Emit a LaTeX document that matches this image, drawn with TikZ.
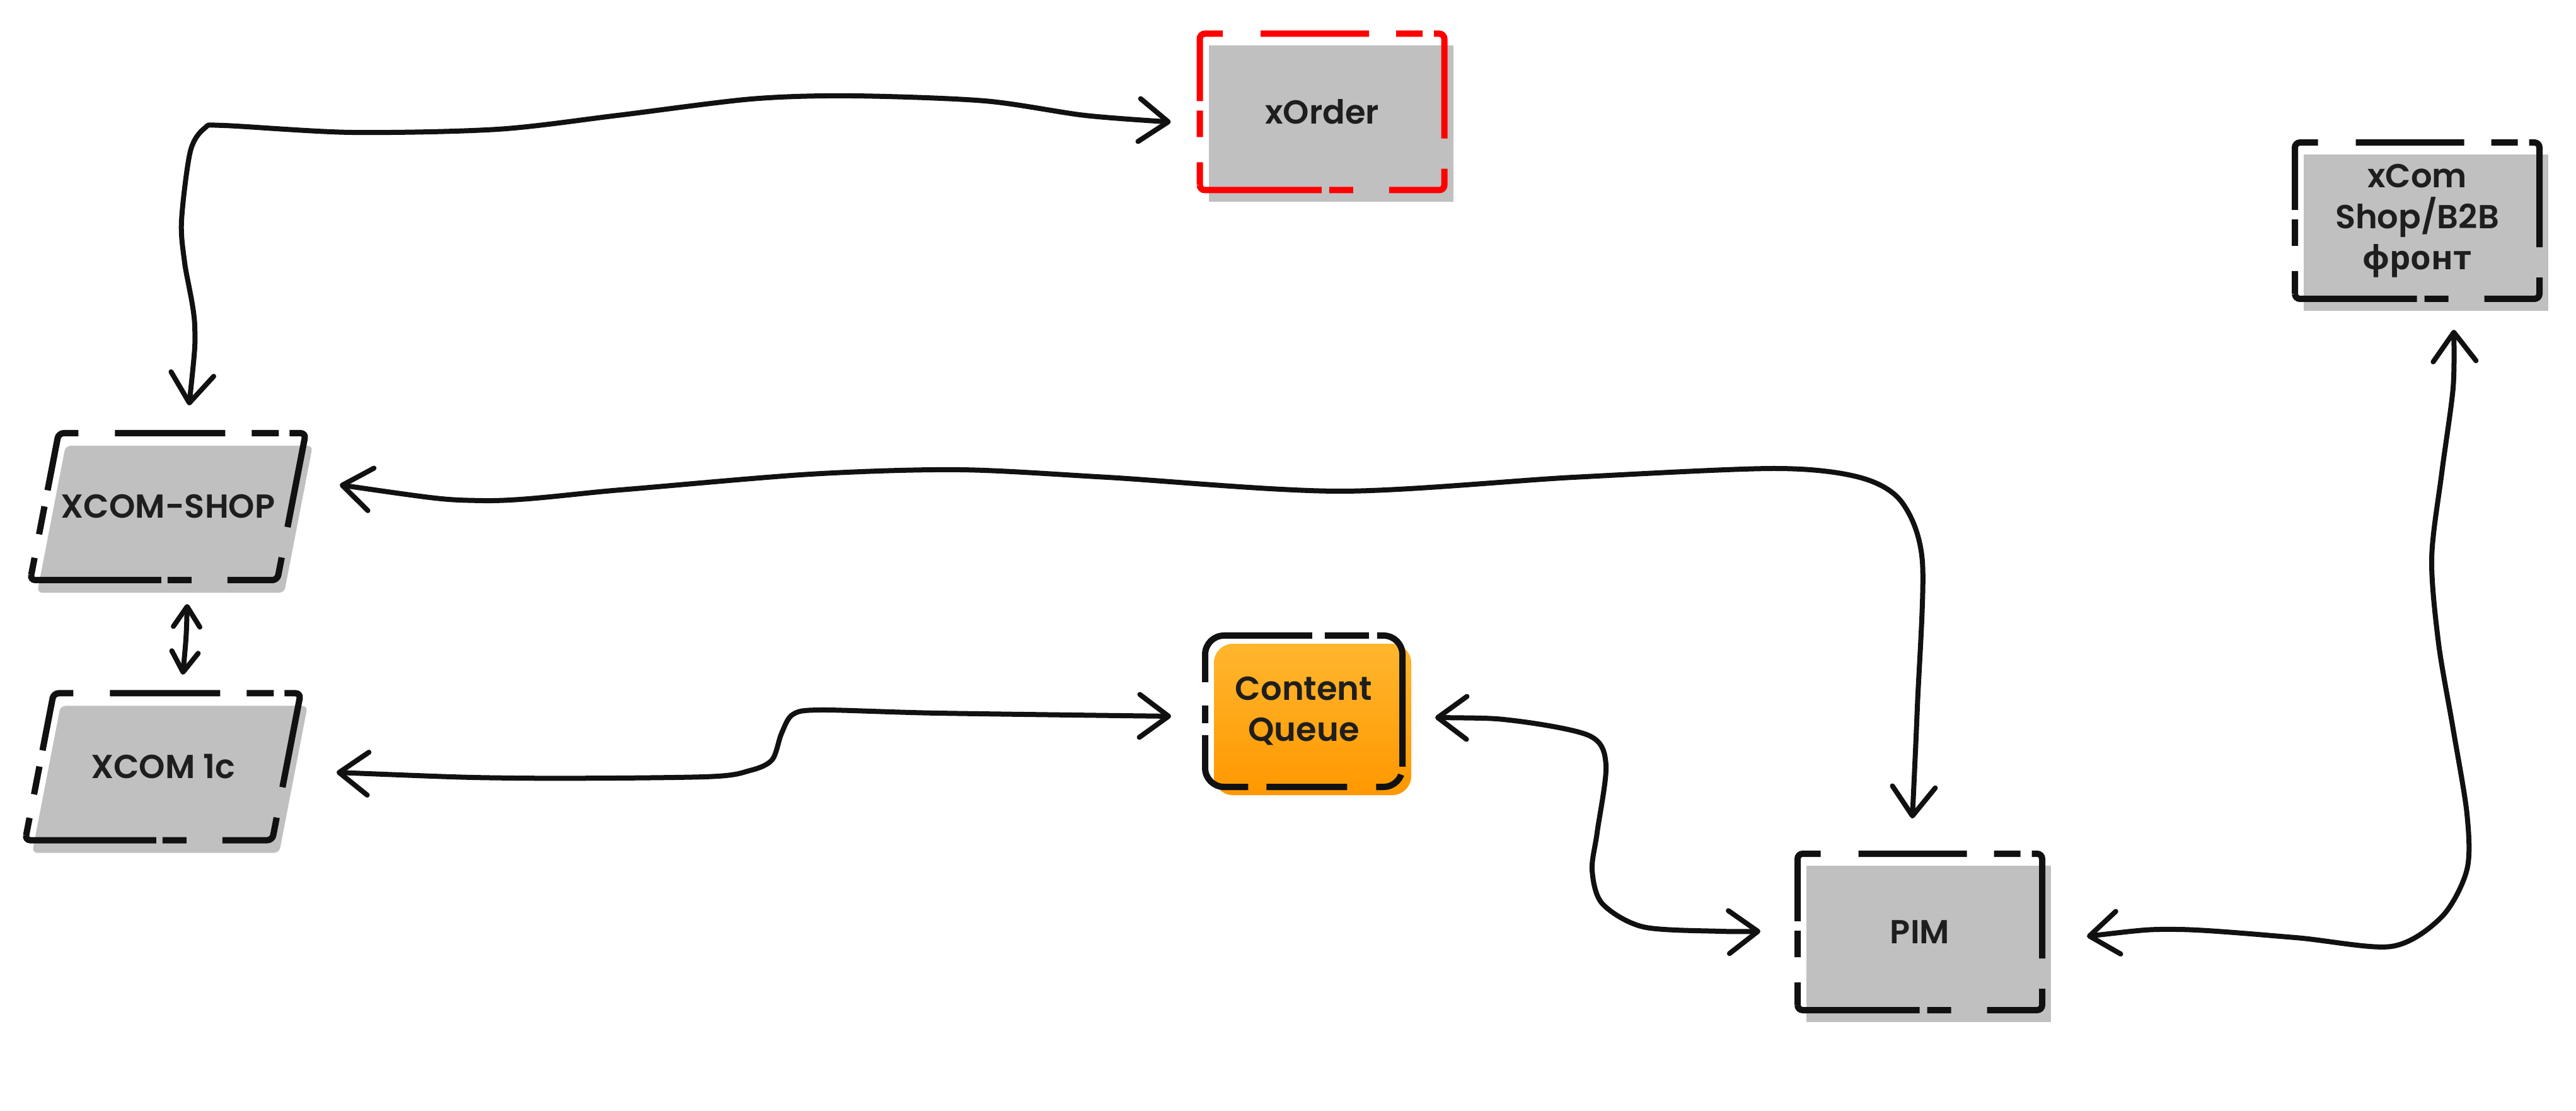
\documentclass[tikz,border=0pt]{standalone}
\usepackage{fontspec}
\usepackage{tikz}
\usetikzlibrary{arrows.meta, positioning, shadows, backgrounds}
\newfontfamily\boxfont{Poppins}[UprightFont=* SemiBold]
\newfontfamily\cyrfont{Open Sans}
\definecolor{ink}{HTML}{111111}
\definecolor{txt}{HTML}{1E1E1E}
\definecolor{boxgray}{HTML}{C0C0C0}
\definecolor{alarm}{HTML}{FF0000}
\definecolor{qtop}{HTML}{FFB62E}
\definecolor{qbot}{HTML}{FF9800}

\begin{document}
\begin{tikzpicture}[
  barb/.tip={Straight Barb[length=4.6mm, width=6.8mm, round]},
  smallbarb/.tip={Straight Barb[length=3.2mm, width=4.2mm, round]},
  base/.style={draw opacity=0, inner sep=0pt, outer sep=0pt, align=center, text=txt, font=\boxfont\fontsize{15}{18.5}\selectfont},
  graybox/.style={drop shadow={shadow xshift=1.4mm, shadow yshift=-1.9mm, fill=boxgray, opacity=1}},
  sys/.style={base, minimum width=3.88cm, minimum height=2.48cm, graybox},
  io/.style={base, minimum width=3.92cm, minimum height=2.33cm},
  queuebox/.style={base, rounded corners=3mm, minimum width=3.13cm, minimum height=2.40cm,
    general shadow={shadow xshift=1.4mm, shadow yshift=-1.3mm, top color=qtop, middle color=qtop, bottom color=qbot}},
  rectline/.style={draw=ink, line width=1mm, rounded corners=0.8mm,
    dash pattern=on 2.52cm off 0.40cm on 0.42cm off 0.15cm on 1.40cm off 0.60cm on 1.72cm off 0.43cm on 0.42cm off 0.18cm on 1.79cm off 0.48cm on 1.18cm off 0.57cm on 0.38cm off 0.12cm, dash phase=2.16cm},
  paraline/.style={draw=ink, line width=1mm, rounded corners=0.8mm,
    dash pattern=on 2.45cm off 0.38cm on 0.45cm off 0.26cm on 1.21cm off 0.58cm on 1.75cm off 0.42cm on 0.43cm off 0.17cm on 1.73cm off 0.49cm on 1.13cm off 0.57cm on 0.38cm off 0.10cm, dash phase=2.17cm},
  queueline/.style={draw=ink, line width=1mm, rounded corners=3mm,
    dash pattern=on 1.39cm off 0.19cm on 0.28cm off 0.37cm on 2.31cm off 0.20cm on 0.70cm off 0.13cm on 2.35cm off 0.13cm on 0.48cm off 0.46cm on 1.28cm off 0.29cm, dash phase=0.87cm},
  link/.style={barb-barb, line width=0.8mm, line cap=round, line join=round, color=ink}
]
\useasboundingbox (0,0) rectangle (40.87,-17.62);

\node[sys] (xorder) at (20.975,-1.775) {xOrder};
\node[sys] (xcom) at (38.35,-3.50) {xCom\\Shop/B2B\\{\cyrfont\bfseries фронт}};
\node[io] (shop) at (2.665,-8.035) {XCOM-SHOP};
\node[io] (onec) at (2.585,-12.16) {XCOM 1c};
\node[queuebox] (queue) at (20.685,-11.28) {Content\\Queue};
\node[sys] (pim) at (30.46,-14.78) {PIM};

\foreach \n in {xcom, pim}
  \draw[rectline] (\n.south west) -- (\n.north west) -- (\n.north east) -- (\n.south east) -- cycle;
\draw[rectline, draw=alarm] (xorder.south west) -- (xorder.north west) -- (xorder.north east) -- (xorder.south east) -- cycle;
\draw[queueline] (queue.south west) -- (queue.north west) -- (queue.north east) -- (queue.south east) -- cycle;
\foreach \n in {shop, onec} {
  \begin{scope}[on background layer]
    \fill[boxgray, rounded corners=0.8mm, transform canvas={shift={(0.11,-0.2)}}] ([xshift=-2.25mm]\n.south west) -- ([xshift=2.25mm]\n.north west) -- ([xshift=2.25mm]\n.north east) -- ([xshift=-2.25mm]\n.south east) -- cycle;
  \end{scope}
  \draw[paraline] ([xshift=-2.25mm]\n.south west) -- ([xshift=2.25mm]\n.north west) -- ([xshift=2.25mm]\n.north east) -- ([xshift=-2.25mm]\n.south east) -- cycle;
}

\draw[link] plot[smooth] coordinates {([shift={(0.335,1.605)}]shop.center) (3.09,-5.17) (2.93,-4.17) (2.88,-3.50) (3.02,-2.40) (3.25,-2.03) (3.55,-1.99) (5.57,-2.10) (7.90,-2.05) (9.80,-1.83) (11.92,-1.57) (13.51,-1.52) (15.62,-1.60) (17.21,-1.83) ([shift={(-0.46,-0.16)}]xorder.west)};
\draw[link] plot[smooth] coordinates {([shift={(2.725,0.345)}]shop.center) (7.66,-7.94) (9.84,-7.77) (12.86,-7.52) (15.22,-7.45) (17.57,-7.57) (21.26,-7.79) (24.96,-7.57) (28.15,-7.43) (29.50,-7.57) (30.17,-7.96) (30.50,-8.91) (30.42,-11.21) ([shift={(-0.12,0.56)}]pim.north)};
\draw[link, smallbarb-smallbarb] plot[smooth] coordinates {([shift={(0.305,-1.545)}]shop.center) (2.95,-10.13) ([shift={(0.315,1.46)}]onec.center)};
\draw[link] plot[smooth] coordinates {([shift={(2.755,-0.09)}]onec.center) (8.16,-12.34) (11.18,-12.32) (11.90,-12.22) (12.25,-12.05) (12.40,-11.63) (12.58,-11.33) (13.03,-11.26) (14.88,-11.31) ([shift={(-0.54,-0.08)}]queue.west)};
\draw[link] plot[smooth] coordinates {([shift={(0.52,-0.10)}]queue.east) (24.03,-11.43) (25.22,-11.67) (25.48,-12.13) (25.34,-13.20) (25.26,-13.80) (25.42,-14.33) (26.07,-14.70) (27.30,-14.77) ([shift={(-0.59,0.01)}]pim.west)};
\draw[link] plot[smooth] coordinates {([shift={(0.71,-0.07)}]pim.east) (34.54,-14.74) (36.42,-14.87) (37.94,-15.01) (38.74,-14.54) (39.14,-13.79) (39.14,-12.91) (38.92,-11.56) (38.69,-10.21) (38.58,-8.86) (38.74,-7.50) (38.92,-6.15) ([shift={(0.58,-0.49)}]xcom.south)};
\end{tikzpicture}
\end{document}
